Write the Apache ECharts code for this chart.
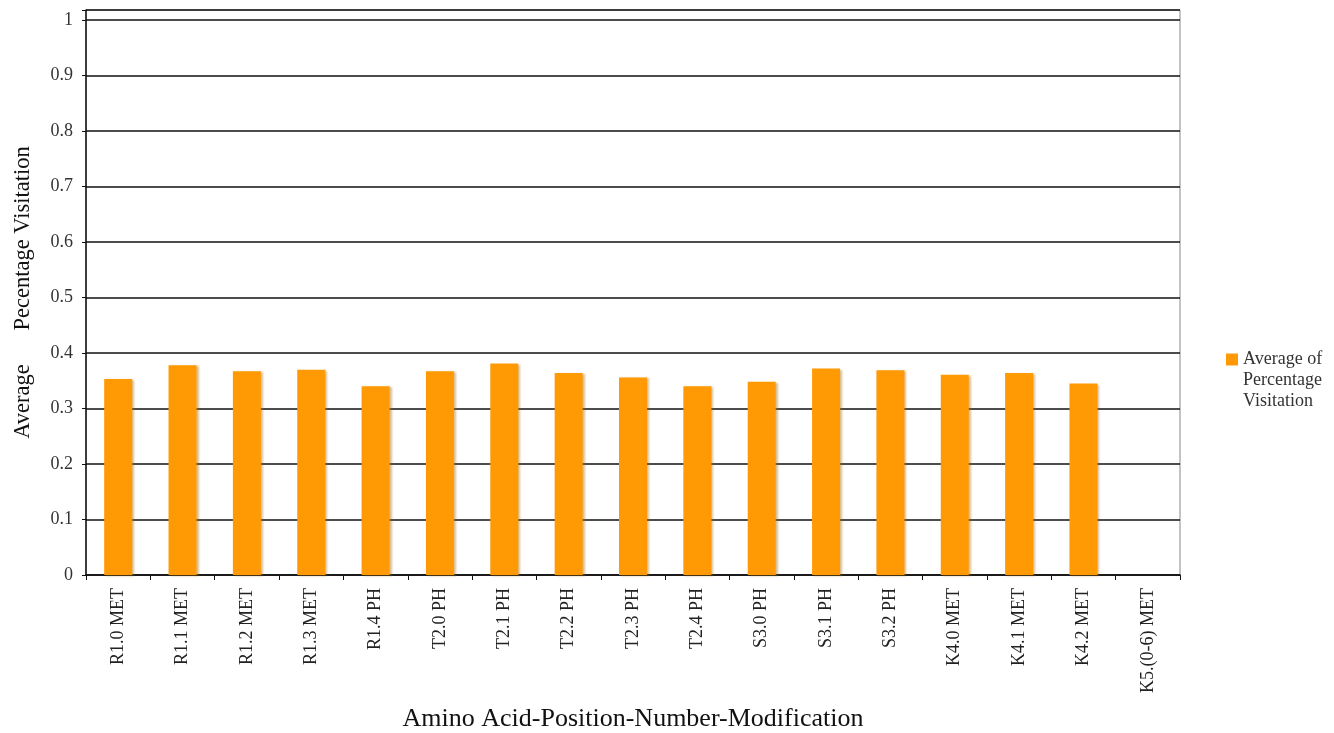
<!DOCTYPE html>
<html>
<head>
<meta charset="utf-8">
<script src="https://cdn.jsdelivr.net/npm/echarts@6/dist/echarts.min.js"></script>
<style>html,body{margin:0;padding:0;background:#fff}#c{width:1334px;height:733px}</style>
</head>
<body>
<div id="c"></div>
<script>
const categories = ['R1.0 MET','R1.1 MET','R1.2 MET','R1.3 MET','R1.4 PH','T2.0 PH','T2.1 PH','T2.2 PH','T2.3 PH','T2.4 PH','S3.0 PH','S3.1 PH','S3.2 PH','K4.0 MET','K4.1 MET','K4.2 MET','K5.(0-6) MET'];
const values = [0.353, 0.378, 0.367, 0.370, 0.340, 0.367, 0.381, 0.364, 0.356, 0.340, 0.348, 0.372, 0.369, 0.361, 0.364, 0.345, null];
const seriesName = 'Average of\nPercentage\nVisitation';
const yTitle = 'Average      Pecentage Visitation';
const xTitle = 'Amino Acid-Position-Number-Modification';

const serif = '"Liberation Serif", "DejaVu Serif", serif';
const chart = echarts.init(document.getElementById('c'));
chart.setOption({
  animation: false,
  backgroundColor: '#fff',
  grid: { left: 86, right: 154, top: 10, bottom: 158, show: true, borderColor: '#888', borderWidth: 1, outerBoundsMode: 'none', containLabel: false },
  legend: {
    show: true, orient: 'vertical', left: 1226, top: 349, padding: 0,
    icon: 'path://M0,0h12v12h-12zM0,54', itemWidth: 12, itemHeight: 54, itemGap: 4,
    textStyle: { fontFamily: serif, fontSize: 18, color: '#333', lineHeight: 21 },
    data: [seriesName]
  },
  xAxis: {
    type: 'category', data: categories,
    name: xTitle, nameLocation: 'middle', nameGap: 131,
    nameTextStyle: { fontFamily: serif, fontSize: 26, color: '#111' },
    axisLine: { lineStyle: { color: '#111', width: 1.5 } },
    axisTick: { show: true, length: 5, lineStyle: { color: '#111' } },
    axisLabel: { rotate: 90, margin: 13, fontFamily: serif, fontSize: 18, color: '#222', interval: 0 }
  },
  yAxis: {
    type: 'value', min: 0, max: 1.018, interval: 0.1,
    name: yTitle, nameLocation: 'middle', nameGap: 51,
    nameTextStyle: { fontFamily: serif, fontSize: 22.5, color: '#111' },
    axisLine: { show: true, lineStyle: { color: '#111', width: 1.5 } },
    axisTick: { show: true, length: 4, lineStyle: { color: '#111' } },
    axisLabel: {
      margin: 13, fontFamily: serif, fontSize: 18, color: '#333',
      formatter: function (v) { const r = Math.round(v * 10) / 10; return Math.abs(r - v) < 1e-6 ? String(r) : ''; }
    },
    splitLine: { show: true, lineStyle: { color: '#111', width: 1.5 } }
  },
  series: [{
    name: seriesName, type: 'bar', data: values, barWidth: 28,
    itemStyle: { color: '#FF9A05', shadowColor: 'rgba(170,110,20,0.45)', shadowBlur: 2, shadowOffsetX: 2, shadowOffsetY: 1 }
  }]
});
</script>
</body>
</html>
